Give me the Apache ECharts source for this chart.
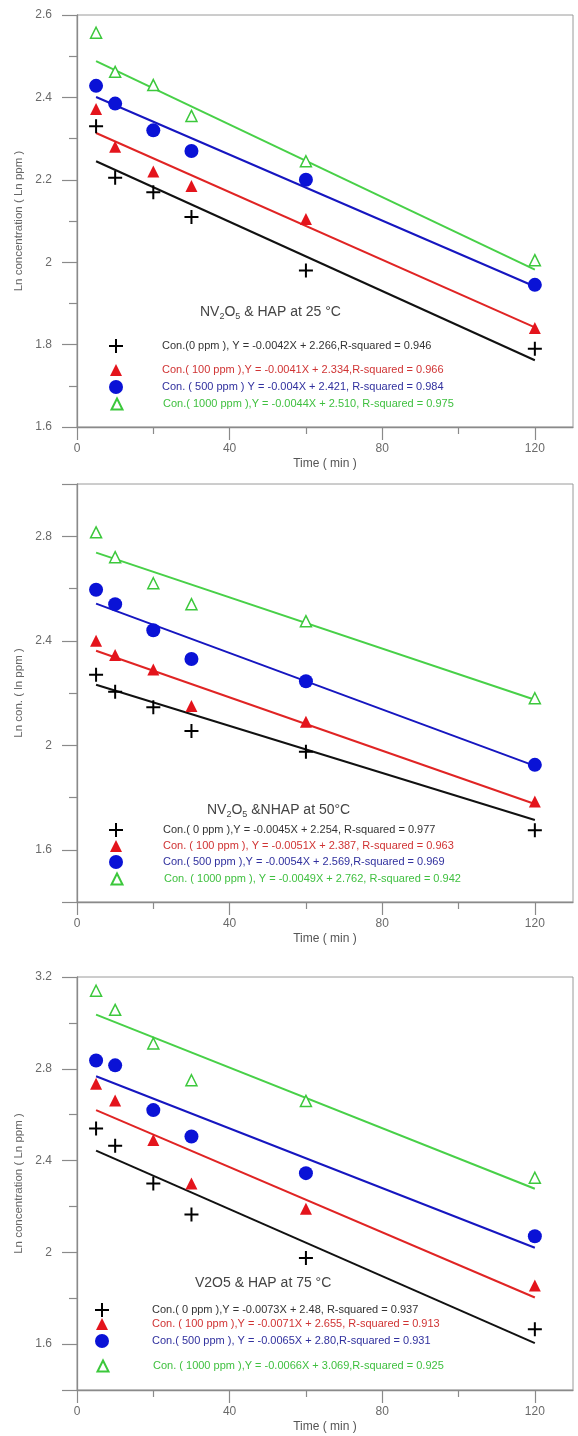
<!DOCTYPE html>
<html>
<head>
<meta charset="utf-8">
<script src="https://cdn.jsdelivr.net/npm/echarts@6/dist/echarts.min.js"></script>
<style>
  html, body { margin: 0; padding: 0; background: #fff; }
  #chart { width: 578px; height: 1436px; }
</style>
</head>
<body>
<div id="chart"></div>
<script>
const FONT = '"Liberation Sans", Arial, sans-serif';

// Sampling times (min)
const times = [5, 10, 20, 30, 60, 120];

// ---- Panel A : NV2O5 & HAP at 25 °C ----
const a_ppm0    = [2.33, 2.205, 2.17, 2.11, 1.98, 1.79];
const a_ppm100  = [2.372, 2.28, 2.22, 2.185, 2.105, 1.84];
const a_ppm500  = [2.428, 2.385, 2.32, 2.27, 2.20, 1.945];
const a_ppm1000 = [2.557, 2.462, 2.43, 2.355, 2.245, 2.005];
const a_slope   = [-0.0042, -0.0041, -0.004, -0.0044];
const a_icpt    = [2.266, 2.334, 2.421, 2.510];
const a_text = [
  'Con.(0 ppm ), Y = -0.0042X + 2.266,R-squared = 0.946',
  'Con.( 100 ppm ),Y = -0.0041X + 2.334,R-squared = 0.966',
  'Con. ( 500 ppm ) Y = -0.004X + 2.421, R-squared = 0.984',
  'Con.( 1000 ppm ),Y = -0.0044X + 2.510, R-squared = 0.975'
];
const a_yLabels = [1.6, 1.8, 2.0, 2.2, 2.4, 2.6];
const a_yMinor  = [1.7, 1.9, 2.1, 2.3, 2.5];

// ---- Panel B : NV2O5 & NHAP at 50 °C ----
const b_ppm0    = [2.27, 2.205, 2.145, 2.055, 1.975, 1.675];
const b_ppm100  = [2.40, 2.345, 2.29, 2.15, 2.09, 1.785];
const b_ppm500  = [2.595, 2.54, 2.44, 2.33, 2.245, 1.925];
const b_ppm1000 = [2.815, 2.72, 2.62, 2.54, 2.475, 2.18];
const b_slope   = [-0.0045, -0.0051, -0.0054, -0.0049];
const b_icpt    = [2.254, 2.387, 2.569, 2.762];
const b_text = [
  'Con.( 0 ppm ),Y = -0.0045X + 2.254, R-squared = 0.977',
  'Con. ( 100 ppm ), Y = -0.0051X + 2.387, R-squared = 0.963',
  'Con.( 500 ppm ),Y = -0.0054X + 2.569,R-squared = 0.969',
  'Con. ( 1000 ppm ), Y = -0.0049X + 2.762, R-squared = 0.942'
];
const b_yLabels = [1.6, 2.0, 2.4, 2.8];
const b_yMajor  = [1.4, 1.6, 2.0, 2.4, 2.8, 3.0];
const b_yMinor  = [1.8, 2.2, 2.6];

// ---- Panel C : V2O5 & HAP at 75 °C ----
const c_ppm0    = [2.54, 2.465, 2.30, 2.165, 1.975, 1.665];
const c_ppm100  = [2.735, 2.662, 2.49, 2.30, 2.19, 1.855];
const c_ppm500  = [2.836, 2.815, 2.62, 2.505, 2.345, 2.07];
const c_ppm1000 = [3.14, 3.057, 2.91, 2.75, 2.66, 2.325];
const c_slope   = [-0.0073, -0.0071, -0.0065, -0.0066];
const c_icpt    = [2.48, 2.655, 2.80, 3.069];
const c_text = [
  'Con.( 0 ppm ),Y = -0.0073X + 2.48, R-squared = 0.937',
  'Con. ( 100 ppm ),Y = -0.0071X + 2.655, R-squared = 0.913',
  'Con.( 500 ppm ), Y = -0.0065X + 2.80,R-squared = 0.931',
  'Con. ( 1000 ppm ),Y = -0.0066X + 3.069,R-squared = 0.925'
];
const c_yLabels = [1.6, 2.0, 2.4, 2.8, 3.2];
const c_yMajor  = [1.4, 1.6, 2.0, 2.4, 2.8, 3.2];
const c_yMinor  = [1.8, 2.2, 2.6, 3.0];

// Shared x ticks
const xLabels = [0, 40, 80, 120];
const xMinor  = [20, 60, 100];

// Marker styles for the four concentrations
const CROSS = 'path://M6,0H8V6H14V8H8V14H6V8H0V6H6Z';
const markers = [
  { symbol: CROSS,      size: 14, item: { color: '#000' },                                   line: '#111',    text: '#333' },
  { symbol: 'triangle', size: 12, item: { color: '#e4141c' },                                line: '#e02424', text: '#d03434' },
  { symbol: 'circle',   size: 14, item: { color: '#0a12d6' },                                line: '#1616c0', text: '#30309e' },
  { symbol: 'triangle', size: 11, item: { color: '#fff', borderColor: '#3cc83c', borderWidth: 1.5 }, line: '#48d048', text: '#40c040' }
];

const panels = [
  {
    grid: { top: 15, height: 412 }, yMin: 1.6, yMax: 2.6,
    yLabels: a_yLabels, yMajor: a_yLabels, yMinor: a_yMinor,
    yName: 'Ln concentration ( Ln ppm )',
    series: [a_ppm0, a_ppm100, a_ppm500, a_ppm1000], slope: a_slope, icpt: a_icpt, text: a_text,
    title: 'NV{s|2}O{s|5} & HAP at 25 °C', titlePos: { left: 200, top: 303 },
    legend: { iconX: 116, textX: 162, rows: [346, 370, 387, 404] }
  },
  {
    grid: { top: 484, height: 418 }, yMin: 1.4, yMax: 3.0,
    yLabels: b_yLabels, yMajor: b_yMajor, yMinor: b_yMinor,
    yName: 'Ln con. ( ln ppm )',
    series: [b_ppm0, b_ppm100, b_ppm500, b_ppm1000], slope: b_slope, icpt: b_icpt, text: b_text,
    title: 'NV{s|2}O{s|5} &NHAP at 50°C', titlePos: { left: 207, top: 801 },
    legend: { iconX: 116, textX: 163, rows: [830, 846, 862, 879] }
  },
  {
    grid: { top: 977, height: 413 }, yMin: 1.4, yMax: 3.2,
    yLabels: c_yLabels, yMajor: c_yMajor, yMinor: c_yMinor,
    yName: 'Ln concentration ( Ln ppm )',
    series: [c_ppm0, c_ppm100, c_ppm500, c_ppm1000], slope: c_slope, icpt: c_icpt, text: c_text,
    title: 'V2O5 & HAP at 75 °C', titlePos: { left: 195, top: 1274 },
    legend: { iconX: 102, textX: 152, rows: [1310, 1324, 1341, 1366] }
  }
];

const AXIS_GRAY = '#8a8a8a';
const LABEL_GRAY = '#6a6a6a';

const option = {
  animation: false,
  backgroundColor: '#fff',
  grid: [], xAxis: [], yAxis: [], series: [], title: [], legend: []
};

panels.forEach((p, k) => {
  option.grid.push({
    left: 77, width: 496, top: p.grid.top, height: p.grid.height,
    show: true, borderColor: '#9a9a9a', borderWidth: 1, backgroundColor: 'transparent'
  });

  // main x axis: line, labels, long ticks, name
  option.xAxis.push({
    type: 'value', gridIndex: k, position: 'bottom', min: 0, max: 130,
    axisLine: { show: true, lineStyle: { color: AXIS_GRAY, width: 1.3 } },
    axisTick: { show: true, length: 13, customValues: xLabels, lineStyle: { color: AXIS_GRAY, width: 1.2 } },
    axisLabel: { customValues: xLabels, margin: 16, color: LABEL_GRAY, fontSize: 12, fontFamily: FONT },
    splitLine: { show: false },
    name: 'Time ( min )', nameLocation: 'middle', nameGap: 31,
    nameTextStyle: { color: '#555', fontSize: 12, fontFamily: FONT }
  });
  // overlay x axis: short ticks
  option.xAxis.push({
    type: 'value', gridIndex: k, position: 'bottom', min: 0, max: 130,
    axisLine: { show: false },
    axisTick: { show: true, length: 7, customValues: xMinor, lineStyle: { color: AXIS_GRAY, width: 1.2 } },
    axisLabel: { show: false }, splitLine: { show: false }
  });

  // main y axis
  option.yAxis.push({
    type: 'value', gridIndex: k, position: 'left', min: p.yMin, max: p.yMax,
    axisLine: { show: true, lineStyle: { color: AXIS_GRAY, width: 1.3 } },
    axisTick: { show: true, length: 15, customValues: p.yMajor, lineStyle: { color: AXIS_GRAY, width: 1.2 } },
    axisLabel: {
      customValues: p.yLabels, margin: 25, color: LABEL_GRAY, fontSize: 12, fontFamily: FONT,
      formatter: v => String(Math.round(v * 10) / 10)
    },
    splitLine: { show: false },
    name: p.yName, nameLocation: 'middle', nameGap: 41, nameRotate: 90,
    nameTextStyle: { color: '#666', fontSize: 11.5, fontFamily: FONT }
  });
  // overlay y axis: short ticks
  option.yAxis.push({
    type: 'value', gridIndex: k, position: 'left', min: p.yMin, max: p.yMax,
    axisLine: { show: false },
    axisTick: { show: true, length: 8, customValues: p.yMinor, lineStyle: { color: AXIS_GRAY, width: 1.2 } },
    axisLabel: { show: false }, splitLine: { show: false }
  });

  p.series.forEach((vals, i) => {
    const m = markers[i];
    // fitted regression line from the stated equation, over the sampled range
    const x0 = times[0], x1 = times[times.length - 1];
    option.series.push({
      type: 'line', name: 'fit' + k + '_' + i,
      xAxisIndex: 2 * k, yAxisIndex: 2 * k,
      data: [[x0, p.icpt[i] + p.slope[i] * x0], [x1, p.icpt[i] + p.slope[i] * x1]],
      showSymbol: false, symbol: 'none', silent: true, z: 2,
      lineStyle: { color: m.line, width: 2 }
    });
    // measured points
    option.series.push({
      type: 'scatter', name: p.text[i],
      xAxisIndex: 2 * k, yAxisIndex: 2 * k,
      data: times.map((t, j) => [t, vals[j]]),
      symbol: m.symbol, symbolSize: m.size, z: 3,
      itemStyle: Object.assign({ opacity: 1 }, m.item)
    });

    // one legend row per series: icon centred at iconX, text starting at textX
    const L = p.legend;
    const gap = L.textX - (L.iconX + m.size / 2 + 5);
    option.legend.push({
      left: L.iconX - m.size / 2, top: L.rows[i] - 7,
      padding: 0, itemWidth: m.size, itemHeight: m.size, itemGap: 0,
      selectedMode: false, data: [p.text[i]],
      formatter: name => '{g| }' + name,
      textStyle: {
        color: m.text, fontSize: 11, fontFamily: FONT, lineHeight: 14,
        rich: { g: { width: gap, fontSize: 11, lineHeight: 14 } }
      }
    });
  });

  option.title.push({
    text: p.title, left: p.titlePos.left, top: p.titlePos.top, padding: 0,
    textStyle: {
      color: '#444', fontSize: 14, fontWeight: 'normal', fontFamily: FONT, lineHeight: 18,
      rich: { s: { fontSize: 9, color: '#444', fontFamily: FONT, lineHeight: 18, verticalAlign: 'bottom', padding: [7, 0, 0, 0] } }
    }
  });
});

const chart = echarts.init(document.getElementById('chart'), null, { renderer: 'canvas' });
chart.setOption(option);
</script>
</body>
</html>
